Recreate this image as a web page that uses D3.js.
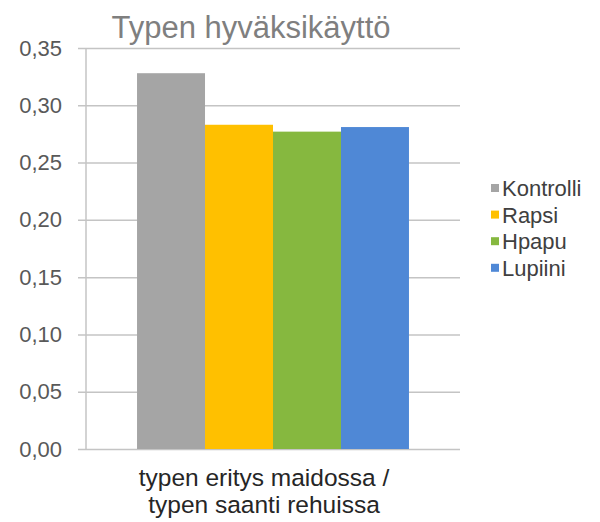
<!DOCTYPE html>
<html><head><meta charset="utf-8">
<script src="https://cdn.jsdelivr.net/npm/d3@7"></script>
<style>body{margin:0;background:#fff}svg{display:block}text{font-family:"Liberation Sans",Arial,sans-serif}</style>
</head><body>
<svg id="c" width="600" height="522"></svg>
<script>
const title = "Typen hyväksikäyttö";
const categoryLines = ["typen eritys maidossa /", "typen saanti rehuissa"];
const categories = ["typen eritys maidossa / typen saanti rehuissa"];
const series = ["Kontrolli", "Rapsi", "Hpapu", "Lupiini"];
const values = [0.328, 0.283, 0.277, 0.281];
const colors = ["#a5a5a5", "#ffc000", "#86b83f", "#4f88d6"];
const yTicks = [0, 0.05, 0.10, 0.15, 0.20, 0.25, 0.30, 0.35];

const svg = d3.select("#c");
const pLeft = 86, pRight = 460, pTop = 48, pBottom = 449;
const y = d3.scaleLinear().domain([0, 0.35]).range([pBottom, pTop]);
const x0 = d3.scaleBand().domain(categories).range([pLeft, pRight]).paddingInner(0.158).paddingOuter(0.158);
const x1 = d3.scaleBand().domain(series).range([0, x0.bandwidth()]);
const fmt = v => d3.format(".2f")(v).replace(".", ",");

const yAxis = d3.axisLeft(y).tickValues(yTicks).tickSize(-(pRight - pLeft)).tickFormat(fmt).tickPadding(24);
const gy = svg.append("g").attr("transform", `translate(${pLeft},0)`).call(yAxis);
gy.select(".domain").remove();
gy.selectAll(".tick line").attr("stroke", "#c4c4c4").attr("stroke-width", 1.5).attr("x1", -8);
gy.selectAll(".tick text").attr("fill", "#595959").style("font-size", "22px");
svg.append("line").attr("x1", pLeft).attr("x2", pLeft).attr("y1", pTop).attr("y2", pBottom)
  .attr("stroke", "#c4c4c4").attr("stroke-width", 1.5);

const g = svg.append("g").attr("transform", `translate(${x0(categories[0])},0)`);
g.selectAll("rect").data(series).join("rect")
  .attr("x", d => x1(d)).attr("width", x1.bandwidth())
  .attr("y", (d, i) => y(values[i])).attr("height", (d, i) => y(0) - y(values[i]))
  .attr("fill", (d, i) => colors[i]);

const cx = x0(categories[0]) + x0.bandwidth() / 2 - 9;
svg.append("text").attr("x", cx).attr("y", 486).attr("text-anchor", "middle")
  .attr("fill", "#262626").style("font-size", "24.5px")
  .selectAll("tspan").data(categoryLines).join("tspan")
  .attr("x", cx).attr("dy", (d, i) => i === 0 ? 0 : 27).text(d => d);

svg.append("text").attr("x", 251).attr("y", 38).attr("text-anchor", "middle")
  .attr("fill", "#7f7f7f").style("font-size", "31px").text(title);

const lg = svg.append("g").attr("transform", "translate(491,188)");
const li = lg.selectAll("g").data(series).join("g").attr("transform", (d, i) => `translate(0,${i * 26.6})`);
li.append("rect").attr("x", 0).attr("y", -4).attr("width", 8).attr("height", 8).attr("fill", (d, i) => colors[i]);
li.append("text").attr("x", 11).attr("dy", "0.36em").attr("fill", "#404040").style("font-size", "22px").text(d => d);
</script>
</body></html>
